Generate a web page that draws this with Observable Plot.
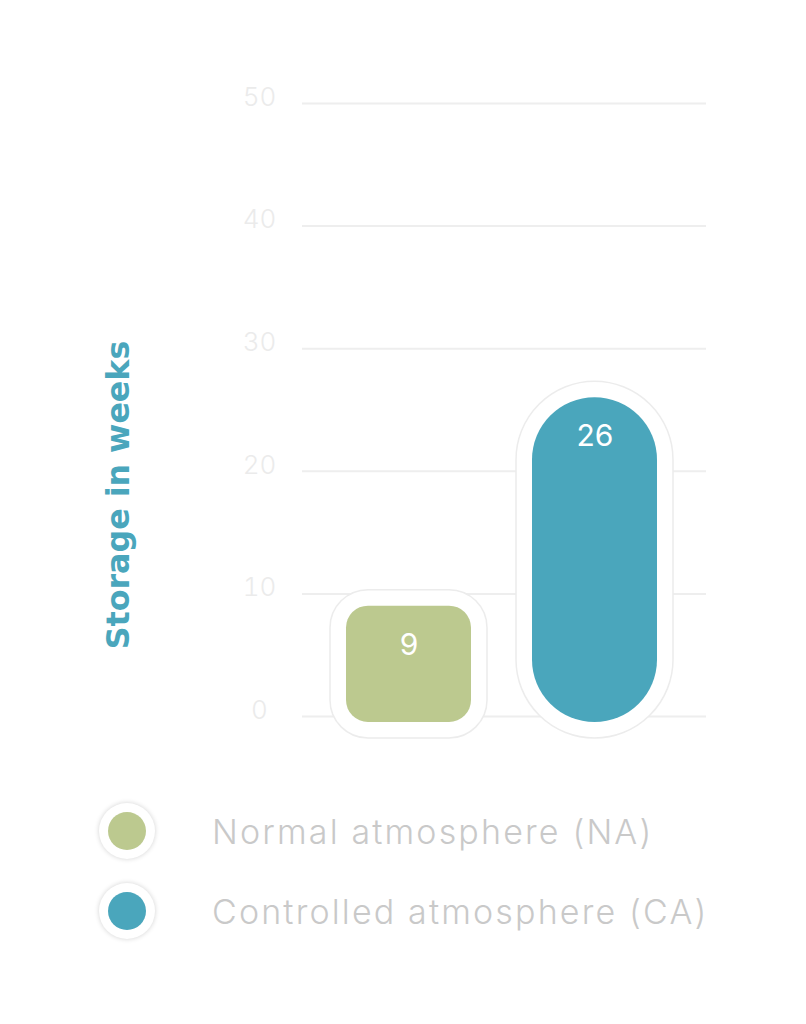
<!DOCTYPE html>
<html>
<head>
<meta charset="utf-8">
<script src="https://cdn.jsdelivr.net/npm/d3@7"></script>
<script src="https://cdn.jsdelivr.net/npm/@observablehq/plot@0.6"></script>
<style>
  html, body { margin: 0; padding: 0; background: #ffffff; }
  #chart { width: 806px; }
  .legend { padding-top: 21px; font-family: "Inter", "Open Sans", sans-serif; }
  .row { display: flex; align-items: center; height: 80px; }
  .halo { width: 56px; height: 56px; border-radius: 50%; background: #fff; margin-left: 99px;
          box-shadow: 0 0 5px rgba(0,0,0,0.18); display: flex; align-items: center; justify-content: center; }
  .dot { width: 38px; height: 38px; border-radius: 50%; }
  .lab { margin-left: 57px; font-size: 34px; font-weight: 300; color: #c9c9c9; white-space: nowrap; letter-spacing: 2.15px; }
</style>
</head>
<body>
<div id="chart"></div>
<script>
const categories = ["NA", "CA"];
const names = ["Normal atmosphere (NA)", "Controlled atmosphere (CA)"];
const values = [9, 26];
const colors = ["#bcc98f", "#4aa6bc"];
const yTicks = [0, 10, 20, 30, 40, 50];
const yLabel = "Storage in weeks";

const data = categories.map((c, i) => ({cat: c, name: names[i], value: values[i]}));

const plot = Plot.plot({
  width: 806,
  height: 770,
  marginTop: 103,
  marginBottom: 54,
  marginLeft: 302,
  marginRight: 100,
  style: {background: "#ffffff", overflow: "visible"},
  x: {domain: categories, paddingInner: 0.328, paddingOuter: 0.25, align: 0.468, axis: null},
  y: {domain: [0, 50], axis: null},
  color: {domain: categories, range: colors},
  marks: [
    Plot.ruleY(yTicks, {stroke: "#eeeeee", strokeWidth: 2}),
    Plot.axisY(yTicks, {tickSize: 0, tickPadding: 43, textAnchor: "middle", dy: -6,
      fontSize: 26, fill: "#ebebeb", fontFamily: "Inter, sans-serif", fontWeight: 300, label: null}),
    Plot.text([yLabel], {frameAnchor: "left", textAnchor: "middle", dx: -184, dy: 85, rotate: -90, text: d => d,
      fill: "#4aa6bc", fontSize: 31.7, fontWeight: 700, fontFamily: "'DejaVu Sans', sans-serif"}),
    // halos
    Plot.barY(data, {filter: d => d.cat === "NA", x: "cat", y: "value", fill: "#ffffff",
      stroke: "#ececec", strokeWidth: 1.5,
      inset: -16, insetBottom: -22, rx: 38, ariaLabel: "halo"}),
    Plot.barY(data, {filter: d => d.cat === "CA", x: "cat", y: "value", fill: "#ffffff",
      stroke: "#ececec", strokeWidth: 1.5,
      inset: -16, insetBottom: -22, rx: 78.5, ariaLabel: "halo"}),
    // bars
    Plot.barY(data, {filter: d => d.cat === "NA", x: "cat", y: "value", fill: "cat",
      insetBottom: -6, rx: 22}),
    Plot.barY(data, {filter: d => d.cat === "CA", x: "cat", y: "value", fill: "cat",
      insetBottom: -6, rx: 62.5}),
    Plot.text(data, {x: "cat", y: "value", text: d => String(d.value), dy: 39,
      fill: "#ffffff", fontSize: 30, fontFamily: "Inter, sans-serif", fontWeight: 400})
  ]
});

d3.select(plot).selectAll('g[aria-label="halo"]')
  .style("filter", "drop-shadow(0px 0px 3px rgba(0,0,0,0.10))");

document.getElementById("chart").appendChild(plot);

const legend = d3.select("body").append("div").attr("class", "legend");
const rows = legend.selectAll(".row").data(data).join("div").attr("class", "row");
rows.append("div").attr("class", "halo")
  .append("div").attr("class", "dot").style("background", (d, i) => colors[i]);
rows.append("div").attr("class", "lab").text(d => d.name);
</script>
</body>
</html>
